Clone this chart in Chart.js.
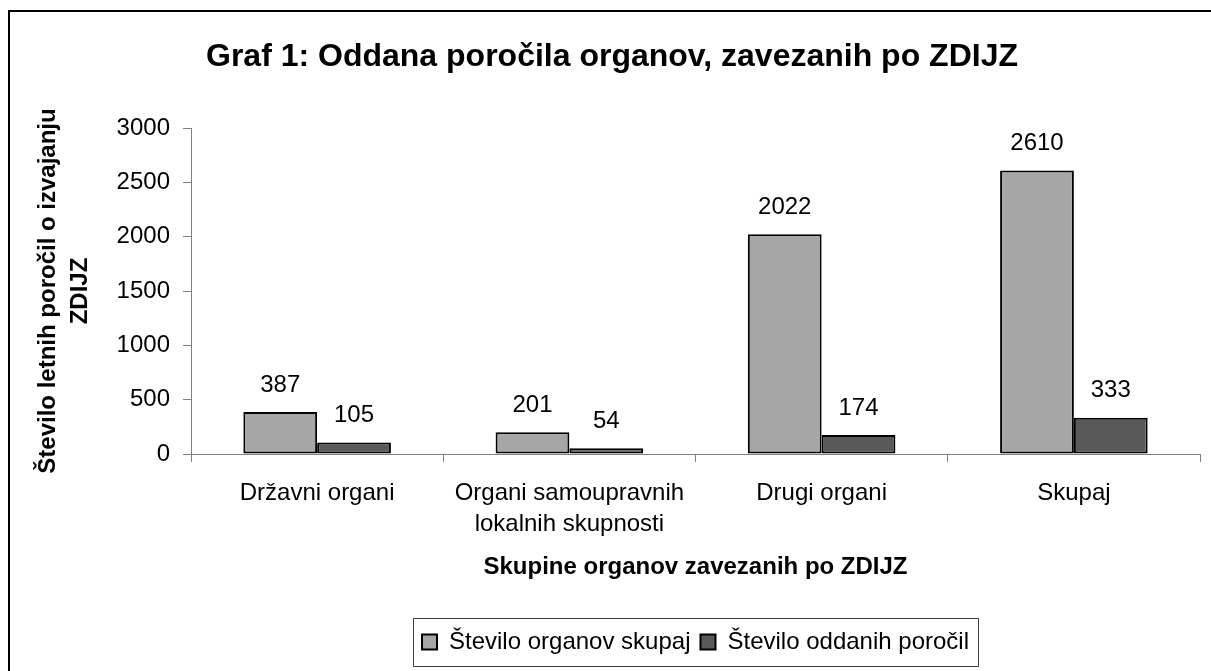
<!DOCTYPE html>
<html lang="sl">
<head>
<meta charset="utf-8">
<title>Graf 1</title>
<script src="https://cdn.jsdelivr.net/npm/chart.js@4.4.1/dist/chart.umd.min.js"></script>
<style>
  html, body { margin: 0; padding: 0; background: #fff; overflow: hidden; }
  #wrap { position: relative; width: 1211px; height: 671px; }
  #frame {
    position: absolute; left: 8px; top: 10px; width: 1220px; height: 680px;
    border: 2px solid #000; box-sizing: border-box; pointer-events: none;
  }
  canvas { position: absolute; left: 0; top: 0; }
</style>
</head>
<body>
<div id="wrap">
  <canvas id="chart" width="1211" height="671"></canvas>
  <div id="frame"></div>
</div>
<script>
// Data
const categories = ['Državni organi', ['Organi samoupravnih', 'lokalnih skupnosti'], 'Drugi organi', 'Skupaj']
const seriesNames = ['Število organov skupaj', 'Število oddanih poročil']
const organsTotal = [387, 201, 2022, 2610]
const reportsSubmitted = [105, 54, 174, 333]
const yMin = 0
const yMax = 3000
const yStep = 500

const chartTitle = 'Graf 1: Oddana poročila organov, zavezanih po ZDIJZ'
const yTitle = ['Število letnih poročil o izvajanju', 'ZDIJZ']
const xTitle = 'Skupine organov zavezanih po ZDIJZ'

const FONT = '"Liberation Sans", Arial, Helvetica, sans-serif'
const AXIS_GREY = '#808080'

Chart.defaults.font.family = FONT
Chart.defaults.color = '#000'

// Value labels above every bar
const valueLabels = {
    id: 'valueLabels',
    afterDatasetsDraw(chart) {
        const ctx = chart.ctx
        ctx.save()
        ctx.font = '24px ' + FONT
        ctx.fillStyle = '#000'
        ctx.textAlign = 'center'
        ctx.textBaseline = 'middle'
        chart.data.datasets.forEach((ds, i) => {
            chart.getDatasetMeta(i).data.forEach((bar, j) => {
                ctx.fillText(String(ds.data[j]), bar.x, bar.y - 27)
            })
        })
        ctx.restore()
    }
}

// Thin box round the legend, like the original
const legendBox = {
    id: 'legendBox',
    afterDraw(chart) {
        const legend = chart.legend
        if (!legend || !legend.legendHitBoxes.length) return
        const boxes = legend.legendHitBoxes
        const left = Math.min(...boxes.map(b => b.left)) - 9
        const right = Math.max(...boxes.map(b => b.left + b.width)) + 9
        const ctx = chart.ctx
        ctx.save()
        ctx.strokeStyle = '#404040'
        ctx.lineWidth = 1
        ctx.strokeRect(Math.round(left) + 0.5, Math.round(legend.top - 2) + 0.5,
            Math.round(right - left), Math.round(legend.height + 4))
        ctx.restore()
    }
}

new Chart(document.getElementById('chart'), {
    type: 'bar',
    data: {
        labels: categories,
        datasets: [
            {
                label: seriesNames[0],
                data: organsTotal,
                backgroundColor: '#A6A6A6',
                borderColor: '#000',
                borderWidth: 2,
                borderSkipped: false
            },
            {
                label: seriesNames[1],
                data: reportsSubmitted,
                backgroundColor: '#595959',
                borderColor: '#000',
                borderWidth: 2,
                borderSkipped: false
            }
        ]
    },
    options: {
        responsive: false,
        animation: false,
        devicePixelRatio: 1,
        barPercentage: 1,
        categoryPercentage: 0.585,
        layout: { padding: { top: 10, left: 24, right: 11, bottom: 7 } },
        plugins: {
            title: {
                display: true,
                text: chartTitle,
                font: { size: 32, weight: 'bold', lineHeight: 1.2 },
                padding: { top: 27.8, bottom: 51.8 },
                color: '#000'
            },
            legend: {
                position: 'bottom',
                fullSize: false,
                labels: {
                    boxWidth: 15,
                    boxHeight: 15,
                    padding: 10,
                    font: { size: 24 },
                    color: '#000'
                }
            },
            tooltip: { enabled: false }
        },
        scales: {
            x: {
                grid: {
                    display: true,
                    drawOnChartArea: false,
                    drawTicks: true,
                    tickLength: 8,
                    color: AXIS_GREY
                },
                border: { display: true, color: AXIS_GREY, width: 1 },
                ticks: {
                    font: { size: 24, lineHeight: 1.3 },
                    padding: 15.4,
                    maxRotation: 0,
                    autoSkip: false,
                    color: '#000'
                },
                title: {
                    display: true,
                    text: xTitle,
                    font: { size: 24, weight: 'bold', lineHeight: 1.2 },
                    padding: { top: 0, bottom: 38.6 },
                    color: '#000'
                },
                afterFit(scale) { scale.height = 166 }
            },
            y: {
                min: yMin,
                max: yMax,
                grid: {
                    display: true,
                    drawOnChartArea: false,
                    drawTicks: true,
                    tickLength: 8,
                    color: AXIS_GREY
                },
                border: { display: true, color: AXIS_GREY, width: 1 },
                ticks: {
                    stepSize: yStep,
                    font: { size: 24 },
                    padding: 13,
                    color: '#000',
                    // plain numbers, no thousands separator
                    callback: (value) => String(value)
                },
                title: {
                    display: true,
                    text: yTitle,
                    font: { size: 24, weight: 'bold', lineHeight: 1.35 },
                    padding: { top: 8, bottom: 0 },
                    color: '#000'
                },
                afterFit(scale) { scale.width = 167 }
            }
        }
    },
    plugins: [valueLabels, legendBox]
})
</script>
</body>
</html>
